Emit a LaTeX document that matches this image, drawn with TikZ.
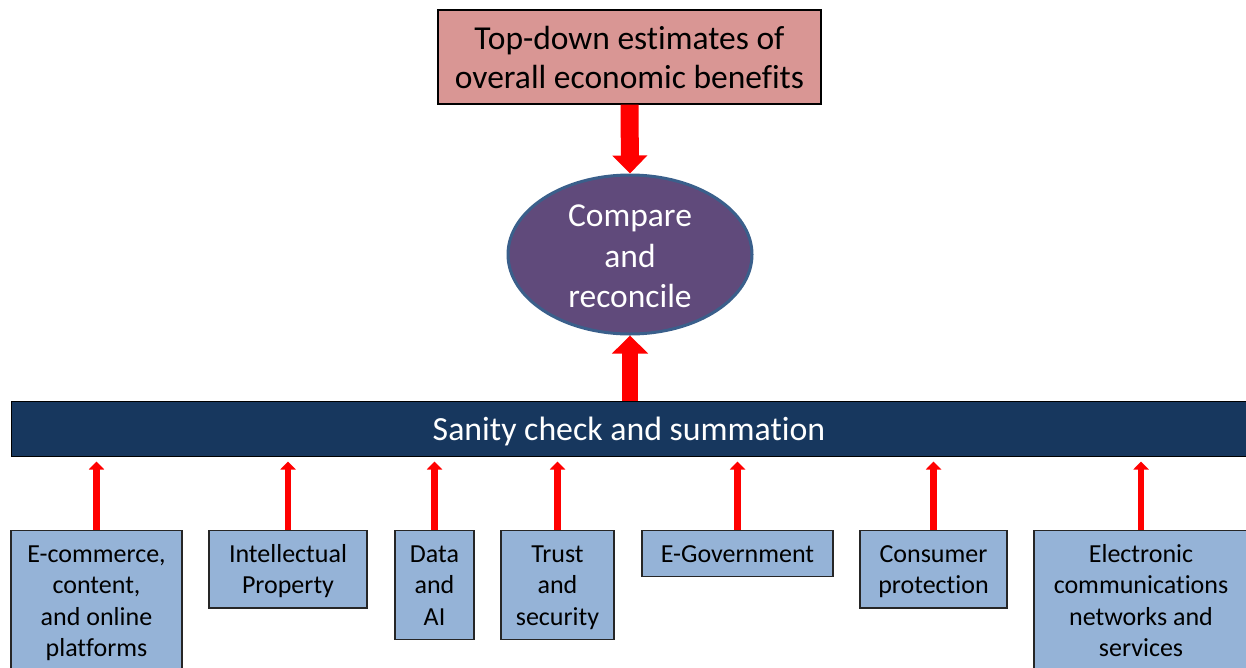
\documentclass[tikz,border=0pt]{standalone}
\usepackage{fontspec}
\setmainfont{Carlito}[Ligatures={NoCommon}]
\usetikzlibrary{shapes.geometric,arrows.meta}
\definecolor{topfill}{HTML}{D99694}
\definecolor{ellfill}{HTML}{604A7B}
\definecolor{elldraw}{HTML}{3A5F8B}
\definecolor{barfill}{HTML}{17375E}
\definecolor{boxfill}{HTML}{95B3D7}
\definecolor{boxdraw}{HTML}{262626}
\definecolor{arrowred}{HTML}{FF0000}
\newcommand\mytopstrut{\rule{0pt}{24.4pt}}
\newcommand\mybotstrut{\rule[-6.6pt]{0pt}{6.6pt}}
\newcommand\mydown[2]{\rule{0pt}{\dimexpr\fontcharht\font`#1+#2\relax}}
\begin{document}
\begin{tikzpicture}[x=1pt,y=-1pt,
  topbox/.style={draw=black, line width=1.2pt, fill=topfill, minimum width=383pt, minimum height=94pt, inner sep=0pt, align=center, font=\fontsize{33.5}{39}\selectfont},
  ellnode/.style={ellipse, draw=elldraw, line width=3pt, fill=ellfill, minimum width=244pt, minimum height=159pt, inner sep=0pt, align=center, text=white, font=\fontsize{33.5}{40.5}\selectfont},
  barnode/.style={draw=black, line width=1pt, fill=barfill, minimum width=1236pt, minimum height=55pt, inner sep=0pt, text=white, font=\fontsize{33.8}{39}\selectfont},
  topicbox/.style={draw=boxdraw, line width=1.3pt, fill=boxfill, anchor=north, inner xsep=0pt, inner ysep=7.5pt, align=center, font=\fontsize{26}{31.3}\selectfont},
  bigarrow/.style={draw=arrowred, line width=18pt, -{Triangle[width=34pt,length=18pt]}, arrowred},
  bigarrowup/.style={draw=arrowred, line width=16pt, -{Triangle[width=35pt,length=18pt]}, arrowred},
  smallarrow/.style={draw=arrowred, line width=6.7pt, -{Triangle[width=15pt,length=8pt]}, arrowred, shorten >=5pt}
]
\useasboundingbox (0,0) rectangle (1246,667);

\node[topbox] (top) at (629.5,57) {Top-down estimates of\\overall economic benefits};
\node[ellnode] (cr) at (630,254.5) {\mydown{C}{4pt}Compare\\and\\reconcile};
\node[barnode] (bar) at (629,428.5) {\mydown{h}{6pt}Sanity check and summation};

\node[topicbox, minimum width=171pt] (b1) at (96.5,530) {\mytopstrut E-commerce,\\content,\\and online\\platforms\mybotstrut};
\node[topicbox, minimum width=158pt] (b2) at (288,530) {\mytopstrut Intellectual\\Property\mybotstrut};
\node[topicbox, minimum width=79pt] (b3) at (434.5,530) {\mytopstrut Data\\and\\AI\mybotstrut};
\node[topicbox, minimum width=113pt] (b4) at (557.5,530) {\mytopstrut Trust\\and\\security\mybotstrut};
\node[topicbox, minimum width=191pt] (b5) at (737.5,530) {\mytopstrut E-Government\mybotstrut};
\node[topicbox, minimum width=147pt] (b6) at (933.5,530) {\mytopstrut Consumer\\protection\mybotstrut};
\node[topicbox, minimum width=214pt] (b7) at (1141,530) {\mytopstrut Electronic\\communications\\networks and\\services\mybotstrut};

\draw[bigarrow] (top.south) -- (cr.north);
\draw[bigarrowup] (cr.south |- bar.north) -- (cr.south);
\foreach \b in {b1,b2,b3,b4,b5,b6,b7}{
  \draw[smallarrow] (\b.north) -- (\b.north |- bar.south);
}
\end{tikzpicture}
\end{document}
